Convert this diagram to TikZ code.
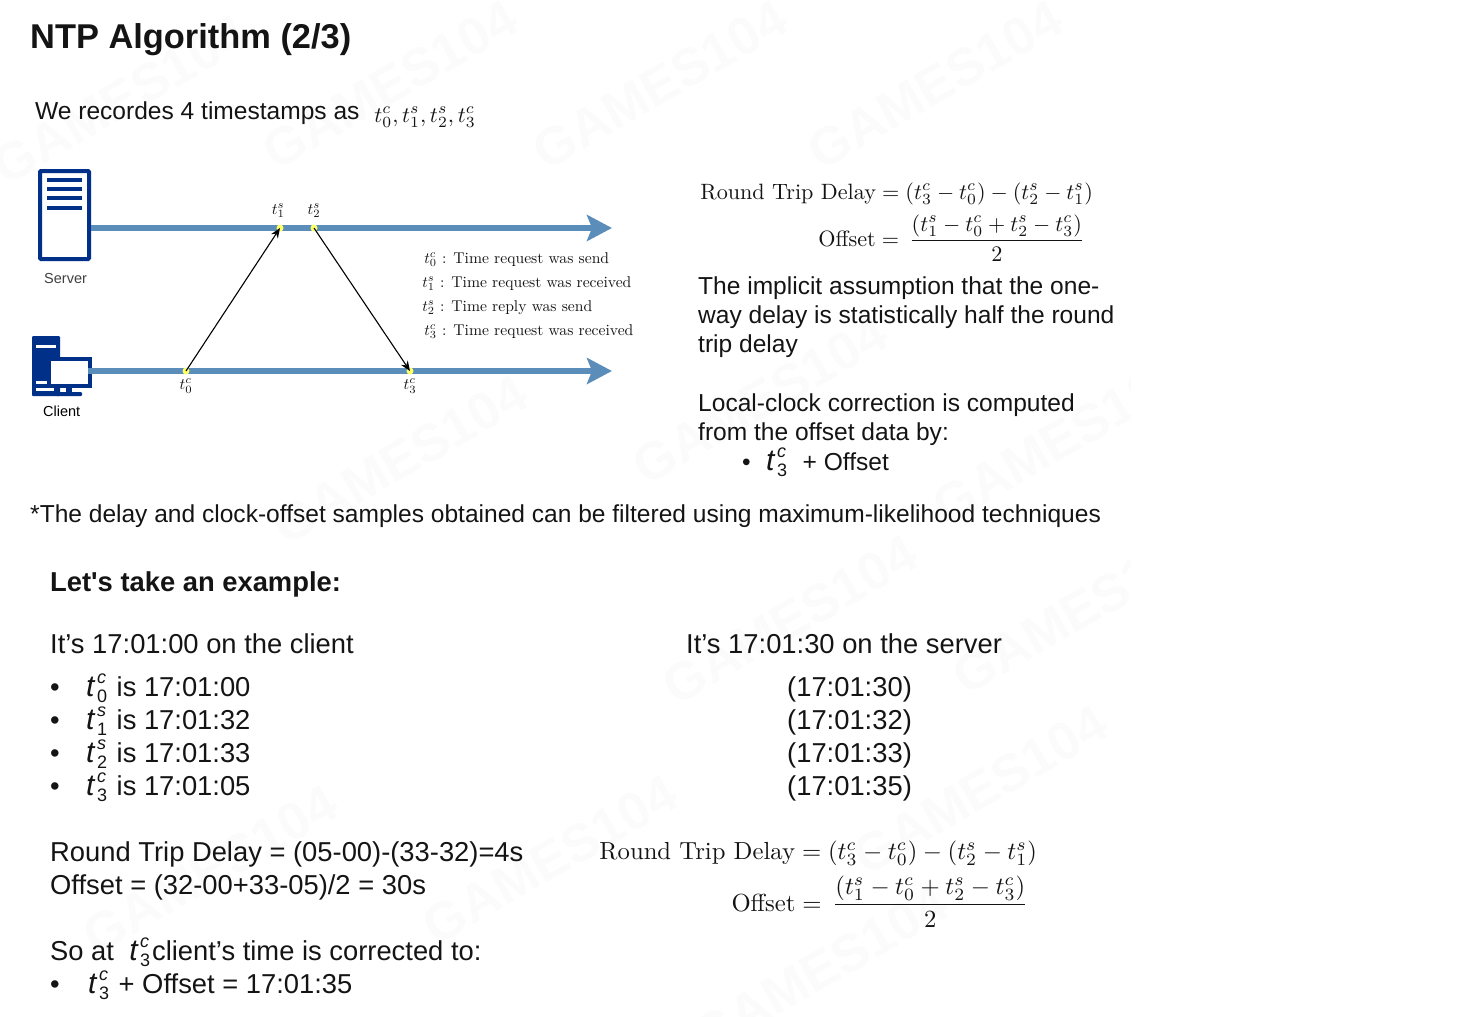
\documentclass[tikz,border=0pt]{standalone}
\usepackage{amsmath,amssymb}
\usepackage{fontspec}
\usepackage{tikz}
\usetikzlibrary{arrows.meta,positioning,calc}
\usepackage{xcolor}
\newfontfamily\arialfont{Liberation Sans}
\definecolor{cLine}{RGB}{91,141,187}
\definecolor{cIcon}{RGB}{0,48,135}
\definecolor{cDot}{RGB}{255,255,102}
\definecolor{cText}{RGB}{20,20,20}
\definecolor{cMark}{RGB}{251,251,251}
\newcommand{\tsc}[2]{t^{#2}_{#1}}
\newcommand{\sz}[1]{\fontsize{#1}{#1}\selectfont}
\newcommand{\tsf}[2]{\mbox{\sz{30}\textit{t}}\kern1.5pt\rlap{\raisebox{13pt}{\sz{18}\textit{#2}}}\raisebox{-6pt}{\sz{18}#1}\kern2pt\relax}
\newcommand{\rtd}{\text{Round Trip Delay}=(\tsc{3}{c}-\tsc{0}{c})-(\tsc{2}{s}-\tsc{1}{s})}
\newcommand{\ofs}{\text{Offset}=\,\dfrac{(\tsc{1}{s}-\tsc{0}{c}+\tsc{2}{s}-\tsc{3}{c})}{2}}

\begin{document}
\begin{tikzpicture}[
    x=1pt, y=-1pt,
    body/.style={anchor=base west,inner sep=0pt,text=cText,font=\arialfont\sz{24.55}},
    bodybig/.style={body,font=\arialfont\sz{27.35}},
    formula/.style={anchor=base west,inner sep=0pt,text=cText,scale=2.216},
    formulabig/.style={anchor=base west,inner sep=0pt,text=cText,scale=2.47},
    legend/.style={anchor=base west,inner sep=0pt,text=cText,scale=1.563},
    stamp/.style={inner sep=0pt,text=cText,scale=1.6},
    dot/.style={circle,fill=cDot,inner sep=0pt,minimum size=7pt},
    timeline/.style={draw=cLine,line width=6pt,-{Stealth[length=25pt,width=26pt,inset=5pt]}},
    wmark/.style={anchor=center,rotate=30,text=cMark,font=\arialfont\bfseries\sz{53}},
    >={Stealth[length=10pt,width=8pt]}
  ]
  \useasboundingbox (0,0) rectangle (1460,1017);
  % watermark
  \begin{scope}
    \clip (0,0) rectangle (1130,1017);
    \foreach \mx/\my in {120/100,390/85,660/85,935/85,400/460,760/400,1060/440,790/620,1080/610,210/870,550/860,980/790,820/970}
      \node[wmark] at (\mx,\my) {GAMES104};
  \end{scope}

  % header
  \node[body,font=\arialfont\bfseries\sz{34.4}] (title) at (30,48) {NTP Algorithm (2/3)};
  \node[body] (intro) at (35,119) {We recordes 4 timestamps as};
  \node[formula] (introts) at (374,122) {$\tsc{0}{c},\tsc{1}{s},\tsc{2}{s},\tsc{3}{c}$};

  % server icon
  \node[draw=cIcon,line width=4pt,rounded corners=1pt,fill=white,minimum width=49pt,minimum height=88pt,inner sep=0pt] (server) at (64.5,215) {};
  \foreach \by in {180,189,198,208}
    \fill[cIcon] (47,\by-2) rectangle (82,\by+2);
  \node[body,font=\arialfont\sz{14.5},text=black!75] (serverlbl) at (44,283) {Server};

  % client icon
  \fill[cIcon,rounded corners=1pt] (32,336) rectangle (60,396);
  \fill[white] (36,344.5) rectangle (56,348);
  \fill[white] (36,381) rectangle (48,384);
  \fill[white] (36,388) rectangle (54,391);
  \node[draw=cIcon,line width=4pt,fill=white,minimum width=41pt,minimum height=27pt,inner sep=0pt] (client) at (69.5,372.5) {};
  \fill[cIcon] (66,388) rectangle (72,392);
  \fill[cIcon,rounded corners=1pt] (56,392) rectangle (82,396);
  \node[body,font=\arialfont\sz{14.5},text=black] (clientlbl) at (43,416) {Client};

  % time lines
  \coordinate (serverend) at (612,228);
  \coordinate (clientend) at (612,371);
  \coordinate (clientstart) at (88,371);
  \draw[timeline] (server.east |- serverend) -- (serverend);
  \draw[timeline] (clientstart) -- (clientend);

  \node[dot] (tzero) at (186,371) {};
  \node[dot] (tone) at (280,228) {};
  \node[dot] (ttwo) at (314,228) {};
  \node[dot] (tthree) at (410,371) {};
  \node[stamp,above=6pt of tone,xshift=-1pt] (tonelbl) {$\tsc{1}{s}$};
  \node[stamp,above=6pt of ttwo] (ttwolbl) {$\tsc{2}{s}$};
  \node[stamp,below=4pt of tzero] (tzerolbl) {$\tsc{0}{c}$};
  \node[stamp,below=4pt of tthree] (tthreelbl) {$\tsc{3}{c}$};
  \draw[->,line width=1.1pt,black] (tzero.center) -- (tone.center);
  \draw[->,line width=1.1pt,black] (ttwo.center) -- (tthree.center);

  % legend
  \node[legend] (lzero) at (424,263) {$\tsc{0}{c}$ : Time request was send};
  \node[legend] (lone) at (422,287) {$\tsc{1}{s}$ : Time request was received};
  \node[legend] (ltwo) at (422,311) {$\tsc{2}{s}$ : Time reply was send};
  \node[legend] (lthree) at (424,335) {$\tsc{3}{c}$ : Time request was received};

  % right column
  \node[formula] (rtdtop) at (700,199) {$\rtd$};
  \node[formula] (ofstop) at (818,246) {$\ofs$};
  \node[body] at (698,294) {The implicit assumption that the one-};
  \node[body] at (698,323) {way delay is statistically half the round};
  \node[body] at (698,352) {trip delay};
  \node[body] at (698,411) {Local-clock correction is computed};
  \node[body] at (698,440) {from the offset data by:};
  \node[body] at (742,470) {•};
  \node[body] (corr) at (766,470) {\tsf{3}{c}\ \ + Offset};
  \node[body] at (30,522) {*The delay and clock-offset samples obtained can be filtered using maximum-likelihood techniques};

  % example
  \node[bodybig,font=\arialfont\bfseries\sz{27.35}] at (50,591) {Let's take an example:};
  \node[bodybig] at (50,653) {It’s 17:01:00 on the client};
  \node[bodybig] at (686,653) {It’s 17:01:30 on the server};
  \foreach \ry/\rsub/\rsup/\rclient/\rserver in {696/0/c/17:01:00/17:01:30,729/1/s/17:01:32/17:01:32,762/2/s/17:01:33/17:01:33,795/3/c/17:01:05/17:01:35}{
    \node[bodybig] at (50,\ry) {•};
    \node[bodybig] at (86,\ry) {\tsf{\rsub}{\rsup} is \rclient};
    \node[bodybig] at (787,\ry) {(\rserver)};
  }
  \node[bodybig] at (50,861) {Round Trip Delay = (05-00)-(33-32)=4s};
  \node[bodybig] at (50,894) {Offset = (32-00+33-05)/2 = 30s};
  \node[formulabig] (rtdlow) at (599,859) {$\rtd$};
  \node[formulabig] (ofslow) at (731,911) {$\ofs$};
  \node[bodybig] at (50,960) {So at\ \ \tsf{3}{c}client’s time is corrected to:};
  \node[bodybig] at (50,993) {•};
  \node[bodybig] at (88,993) {\tsf{3}{c} + Offset = 17:01:35};
\end{tikzpicture}
\end{document}
